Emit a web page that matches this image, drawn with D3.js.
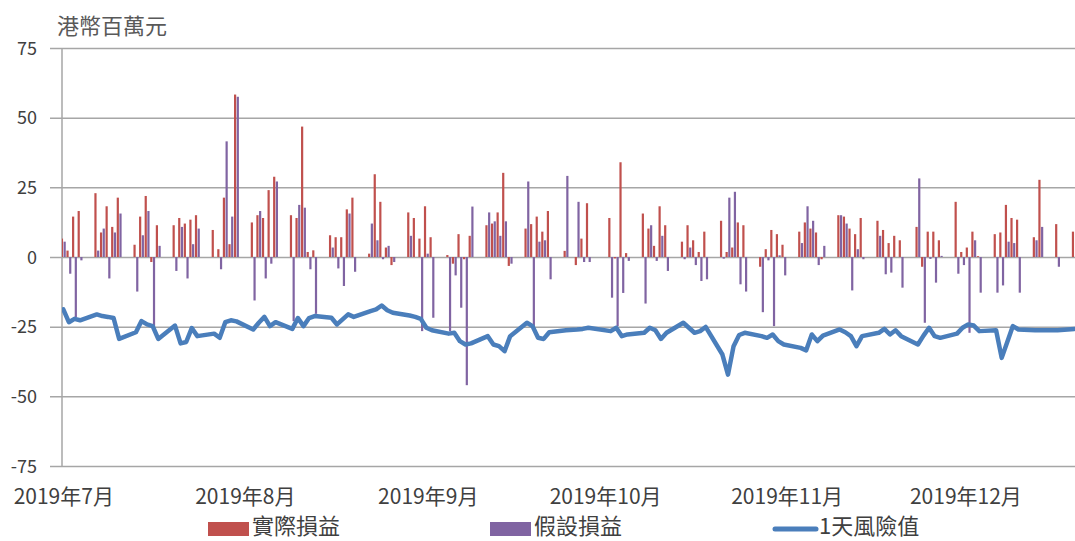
<!DOCTYPE html>
<html>
<head lang="zh-Hant">
    <meta charset="UTF-8">
    <script type="text/javascript" src="https://cdn.jsdelivr.net/npm/d3@7"></script>
    <title></title>
</head>
<body style="margin:0;background:#fff;">
<style>
    svg text{
        font-family: "Noto Sans CJK TC", "Noto Sans", sans-serif;
        fill: #404040;
    }
    .grid line{
        stroke: #a6a6a6;
        stroke-width: 1.5;
    }
</style>
<script type="text/javascript">
    // 交易日
    var days = [
        "2019-07-02","2019-07-03","2019-07-04","2019-07-05","2019-07-08","2019-07-09","2019-07-10","2019-07-11","2019-07-12",
        "2019-07-15","2019-07-16","2019-07-17","2019-07-18","2019-07-19","2019-07-22","2019-07-23","2019-07-24","2019-07-25",
        "2019-07-26","2019-07-29","2019-07-30","2019-07-31",
        "2019-08-01","2019-08-02","2019-08-05","2019-08-06","2019-08-07","2019-08-08","2019-08-09","2019-08-12","2019-08-13",
        "2019-08-14","2019-08-15","2019-08-16","2019-08-19","2019-08-20","2019-08-21","2019-08-22","2019-08-23","2019-08-26",
        "2019-08-27","2019-08-28","2019-08-29","2019-08-30",
        "2019-09-02","2019-09-03","2019-09-04","2019-09-05","2019-09-06","2019-09-09","2019-09-10","2019-09-11","2019-09-12",
        "2019-09-13","2019-09-16","2019-09-17","2019-09-18","2019-09-19","2019-09-20","2019-09-23","2019-09-24","2019-09-25",
        "2019-09-26","2019-09-27","2019-09-30",
        "2019-10-02","2019-10-03","2019-10-04","2019-10-08","2019-10-09","2019-10-10","2019-10-11","2019-10-14","2019-10-15",
        "2019-10-16","2019-10-17","2019-10-18","2019-10-21","2019-10-22","2019-10-23","2019-10-24","2019-10-25","2019-10-28",
        "2019-10-29","2019-10-30","2019-10-31",
        "2019-11-01","2019-11-04","2019-11-05","2019-11-06","2019-11-07","2019-11-08","2019-11-11","2019-11-12","2019-11-13",
        "2019-11-14","2019-11-15","2019-11-18","2019-11-19","2019-11-20","2019-11-21","2019-11-22","2019-11-25","2019-11-26",
        "2019-11-27","2019-11-28","2019-11-29",
        "2019-12-02","2019-12-03","2019-12-04","2019-12-05","2019-12-06","2019-12-09","2019-12-10","2019-12-11","2019-12-12",
        "2019-12-13","2019-12-16","2019-12-17","2019-12-18","2019-12-19","2019-12-20","2019-12-23","2019-12-24","2019-12-27",
        "2019-12-30"
    ];
    // 實際損益
    var actualPL = [
        6.6, 2.3, 14.5, 16.5, 22.9, 8.8, 18.2, 10.8, 21.3, 4.4, 14.5, 21.9, -1.8, 11.4, 11.4, 14, 12, 13.4, 15, 9.7, 2.8, 21.3,
        4.6, 58.3, 12.4, 15, 14, 24, 28.8, 15, 14, 46.8, 1.8, 2.4, 7.8, 7.1, 7.1, 17.1, 21.3, 1.2, 29.7, 19.8, 3.4, -2.9,
        16, 14, 6.6, 18.2, 7.1, 0.7, -2.4, 8.2, -0.8, 7.6, 11.4, 12, 16, 30.2, -3.2, 10.2, 11.8, 14.5, 9.1, 16.5, 2.2,
        -2.9, 6.6, 19.3, 14, -0.5, 34, 1.4, 15.6, 10.2, 4, 18.2, 11.4, 5.5, 11.4, 6, 1.8, 9.1, 13, 1.8, 3.4, 12.4,
        11.4, -3.5, 2.8, 9.7, 8.2, 4.4, 9.1, 12.4, 10.2, 8.8, -0.8, 15, 14.5, 10.2, 8.2, 14, 13, 9.7, 5, 7.6, 6,
        10.8, -3.5, 9.1, 9.1, 6, 19.8, 1.8, 3.4, 9.1, 0.3, 8.2, 8.8, 18.7, 14, 13.4, 7.1, 27.7, 11.8, 9.1
    ];
    // 假設損益
    var hypoPL = [
        5.5, -6, -21.6, -1.2, 2.3, 10.2, -7.7, 8.8, 15.6, -12.4, 7.8, 16.5, -24.8, 4, -5, 10.8, -7.7, 4.6, 10.2, 0, -4.4, 41.5,
        14.5, 57.5, -15.6, 16.5, -7.7, -2.4, 27.1, -23, 18.7, 17.7, -4.4, -20.4, 3.4, -4.1, -10.4, 15.6, -5.3, 12, 6, -0.8, 4, -1.8,
        7.6, 0, -26.6, 1.2, -21.8, -26.6, -6.6, -18.2, -46, 18.1, 16, 12.8, 7.6, 12.8, -2.4, 27.1, -24.8, 5.5, 6, -8, 29.1,
        19.8, -1.8, -1.8, -14.6, -24.8, -12.9, -1.4, -16.7, 11.4, -1.4, 7.6, -5, -0.8, 3.4, -2.9, -8.6, -8, -0.6, 21.3, 23.4, -9.8,
        -12.4, -19.8, -1.2, -24.8, 0.6, -6.6, 5, 18.2, 13, -2.9, 4, 15, 12, -12, 2.8, -0.8, 7.6, -6.2, -5.6, 0, -11,
        28.2, -23.6, -0.7, -9.2, 0.4, -6, -2.9, -27.2, 6, -12.8, -12.8, -10.2, 5.5, 5, -12.8, 6, 10.8, -3.5, 0
    ];
    // 1天風險值
    var var1d = [
        -18.8, -23.4, -22.2, -22.7, -20.6, -21.2, -21.5, -21.9, -29.4, -27, -23, -24.2, -24.8, -29.4, -24.6, -31, -30.5, -25.5, -28.4, -27.5, -29, -23.4,
        -22.7, -23.1, -26, -23.6, -21.5, -24.8, -23.4, -25.8, -21.9, -24.8, -21.9, -21.2, -21.8, -24.2, -22.4, -20.6, -21.5, -19.4, -18.8, -17.4, -19.1, -20,
        -21, -21.5, -22.2, -25.4, -26.3, -27.5, -27.2, -30.2, -31.4, -31, -28.4, -31.4, -32, -33.8, -28.4, -23.6, -24.8, -29, -29.4, -27, -26.3,
        -26, -25.8, -25.4, -26.6, -25.4, -28.4, -27.8, -27.2, -25.4, -26.3, -29.4, -27.2, -23.6, -25.4, -27.2, -26.6, -25.1, -35, -42.2, -32, -28,
        -27.2, -28.4, -29, -27.8, -30.2, -31.4, -32.6, -33.5, -27.8, -30.2, -28.2, -26, -27, -28.4, -32, -28.4, -27.2, -25.8, -27.8, -26.3, -28.4,
        -31.4, -28.2, -25.4, -28.4, -29, -27.5, -25.4, -24.2, -24.6, -26.6, -26.3, -36.2, -30.5, -24.8, -26, -26.3, -26.3, -26.3, -25.8
    ];
    var yTicks = [75, 50, 25, 0, -25, -50, -75];
    var xTicks = ["2019-07-02 00:00", "2019-08-03 12:00", "2019-09-05 06:00", "2019-10-07 00:00", "2019-11-08 12:00", "2019-12-10 12:00"];
    var seriesNames = ["實際損益", "假設損益", "1天風險值"];
    var colors = ["#c0504d", "#8064a2", "#4a7ebb"];

    // 画布
    var w = 1075, h = 541;
    var pLeft = 62, pRight = 1075, pTop = 48, pBottom = 466;
    var svg = d3.select("body").append("svg")
            .attr("width", w)
            .attr("height", h);

    var parseDay = d3.timeParse("%Y-%m-%d");
    var parseTick = d3.timeParse("%Y-%m-%d %H:%M");
    var dates = days.map(parseDay);

    var x = d3.scaleTime()
            .domain([new Date(2019, 6, 1, 18, 25), new Date(2019, 11, 30, 3, 0)])
            .range([pLeft, pRight]);
    var y = d3.scaleLinear().domain([-75, 75]).range([pBottom, pTop]);

    svg.append("defs").append("clipPath").attr("id", "plot")
        .append("rect").attr("x", pLeft).attr("y", pTop - 5).attr("width", pRight - pLeft).attr("height", pBottom - pTop + 10);

    // 网格 + y轴
    var yAxis = svg.append("g")
            .attr("class", "grid")
            .attr("transform", "translate(50,0)")
            .call(d3.axisLeft(y).tickValues(yTicks).tickSize(-(pRight - 50)).tickPadding(13)
                .tickFormat(function(d){ return String(d); }));
    yAxis.select(".domain").remove();
    yAxis.selectAll("text").style("font-size", "18px").attr("dy", "0.34em");

    svg.append("line")
        .attr("x1", pLeft).attr("x2", pLeft)
        .attr("y1", pTop).attr("y2", pBottom)
        .attr("stroke", "#a6a6a6").attr("stroke-width", 1.5);

    // x轴
    var xAxis = svg.append("g")
            .attr("transform", "translate(0," + pBottom + ")")
            .call(d3.axisBottom(x).tickValues(xTicks.map(parseTick)).tickSize(0).tickPadding(23)
                .tickFormat(d3.timeFormat("%Y年%-m月")));
    xAxis.select(".domain").remove();
    xAxis.selectAll("text").style("font-size", "21px");

    // 柱
    var plot = svg.append("g").attr("clip-path", "url(#plot)");
    var bw = 2.2;
    function bars(vals, off, color){
        plot.append("g").selectAll("rect")
            .data(vals)
            .enter().append("rect")
            .attr("x", function(d, i){ return x(dates[i]) + off; })
            .attr("y", function(d){ return y(Math.max(0, d)); })
            .attr("width", bw)
            .attr("height", function(d){ return Math.abs(y(d) - y(0)); })
            .attr("fill", color);
    }
    bars(actualPL, -2.45, colors[0]);
    bars(hypoPL, 0.25, colors[1]);

    // 风险值线
    var line = d3.line()
            .x(function(d, i){ return x(dates[i]); })
            .y(function(d){ return y(d); });
    plot.append("path")
        .datum(var1d)
        .attr("d", line)
        .attr("fill", "none")
        .attr("stroke", colors[2])
        .attr("stroke-width", 4.5)
        .attr("stroke-linejoin", "round")
        .attr("stroke-linecap", "round");

    // 标题
    svg.append("text")
        .attr("x", 57).attr("y", 34)
        .style("font-size", "22px")
        .style("fill", "#595959")
        .text("港幣百萬元");

    // 图例
    var legX = [208, 490, 775];
    var lg = svg.append("g");
    for (var k = 0; k < 3; k++){
        if (k < 2){
            lg.append("rect")
                .attr("x", legX[k]).attr("y", 522)
                .attr("width", 41).attr("height", 14)
                .attr("fill", colors[k]);
        } else {
            lg.append("line")
                .attr("x1", legX[k]).attr("x2", legX[k] + 41)
                .attr("y1", 529).attr("y2", 529)
                .attr("stroke", colors[k]).attr("stroke-width", 5)
                .attr("stroke-linecap", "round");
        }
        lg.append("text")
            .attr("x", legX[k] + 44).attr("y", 534)
            .style("font-size", "22px")
            .text(seriesNames[k]);
    }
</script>
</body>
</html>
